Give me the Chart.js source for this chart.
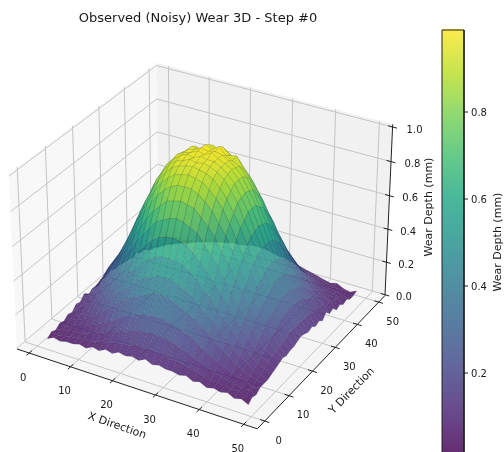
<!DOCTYPE html>
<html>
<head>
<meta charset="utf-8">
<script src="https://cdn.jsdelivr.net/npm/chart.js@4.4.0/dist/chart.umd.min.js"></script>
<style>
  body { margin: 0; padding: 0; background: white; }
  canvas { display: block; }
</style>
</head>
<body>
<canvas id="chartCanvas" width="504" height="452"></canvas>
<script>
// Data
const titleText = 'Observed (Noisy) Wear 3D - Step #0';
const xGrid = [1.5, 3.07, 4.63, 6.2, 7.77, 9.33, 10.9, 12.47, 14.03, 15.6, 17.17, 18.73, 20.3, 21.87, 23.43, 25, 26.57, 28.13, 29.7, 31.27, 32.83, 34.4, 35.97, 37.53, 39.1, 40.67, 42.23, 43.8, 45.37, 46.93, 48.5];
const yGrid = [1.5, 3.07, 4.63, 6.2, 7.77, 9.33, 10.9, 12.47, 14.03, 15.6, 17.17, 18.73, 20.3, 21.87, 23.43, 25, 26.57, 28.13, 29.7, 31.27, 32.83, 34.4, 35.97, 37.53, 39.1, 40.67, 42.23, 43.8, 45.37, 46.93, 48.5];
// wear depth in hundredths of a mm, one row per yGrid value
const wearHundredths = [
  [3,5,4,5,5,6,5,7,6,8,7,9,8,9,8,10,8,9,8,8,7,8,6,7,5,6,5,6,4,5,3],
  [5,4,5,6,6,7,7,8,9,10,11,12,12,13,13,14,13,13,12,12,11,10,9,8,7,7,6,6,6,4,5],
  [4,6,6,7,7,8,9,11,13,14,16,17,19,20,20,21,20,20,19,17,16,14,13,11,9,8,7,7,5,6,4],
  [6,5,7,8,9,11,13,15,17,20,23,24,26,27,28,28,28,27,26,24,23,20,17,15,13,11,9,8,7,5,6],
  [5,8,8,10,12,15,18,21,25,28,31,33,35,37,39,39,39,37,35,33,31,28,25,21,18,15,12,10,8,7,6],
  [7,7,9,12,15,18,22,26,30,33,37,41,43,45,47,47,47,45,43,41,37,33,30,26,22,18,15,12,9,8,6],
  [6,10,11,14,18,22,26,31,35,41,44,49,52,55,56,56,56,55,52,49,44,41,35,31,26,22,18,14,11,9,7],
  [9,9,13,16,21,26,31,36,42,47,52,57,61,64,65,66,65,64,61,57,52,47,42,36,31,26,21,16,13,10,8],
  [8,13,15,19,25,30,35,42,48,55,60,65,70,72,74,75,74,72,70,65,60,55,48,42,35,30,25,19,15,12,9],
  [11,12,17,22,28,33,41,47,55,61,68,73,77,81,82,83,82,81,77,73,68,61,55,47,41,33,28,22,17,13,10],
  [8,14,19,25,31,37,44,52,60,68,74,80,84,87,89,89,89,87,84,80,74,68,60,52,44,37,31,25,19,13,9],
  [10,13,21,27,33,41,49,57,65,73,80,85,89,92,93,94,93,92,89,85,80,73,65,57,49,41,33,27,21,14,10],
  [9,15,23,28,35,43,52,61,70,77,84,89,93,95,96,97,96,95,93,89,84,77,70,61,52,43,35,28,23,15,10],
  [11,15,24,30,37,45,55,64,72,81,87,92,95,96,98,97,98,97,95,92,87,81,72,64,55,45,37,30,24,16,11],
  [10,16,25,31,39,47,56,65,75,82,89,93,96,98,97,99,98,98,96,93,89,82,75,65,56,47,39,31,25,15,12],
  [12,15,25,31,39,47,56,66,75,83,89,94,96,97,99,98,100,98,96,94,89,83,75,66,56,47,39,31,25,16,11],
  [11,16,25,31,39,47,56,65,75,82,89,93,96,97,99,98,99,98,96,93,89,82,75,65,56,47,39,31,25,15,10],
  [10,15,24,30,37,45,55,64,72,81,87,92,96,95,99,97,100,96,94,92,87,81,72,64,55,45,37,30,24,15,11],
  [10,14,23,28,35,43,52,61,70,77,84,89,94,93,97,95,98,94,95,89,84,77,70,61,52,43,35,28,23,15,9],
  [9,13,21,27,33,41,49,57,65,73,80,85,90,91,95,93,94,91,90,85,80,73,65,57,49,41,33,27,21,13,10],
  [9,12,19,25,31,37,44,52,60,68,74,80,85,86,90,88,90,86,83,80,74,68,60,52,44,37,31,25,19,14,8],
  [9,14,17,22,28,33,41,47,55,61,68,73,77,81,82,83,82,81,77,73,68,61,55,47,41,33,28,22,17,12,11],
  [10,11,15,19,25,30,35,42,48,55,60,65,70,72,74,75,74,72,70,65,60,55,48,42,35,30,25,19,15,13,8],
  [7,11,13,16,21,26,31,36,42,47,52,57,61,64,65,66,65,64,61,57,52,47,42,36,31,26,21,16,13,9,9],
  [8,8,11,14,18,22,26,31,35,41,44,49,52,55,56,56,56,55,52,49,44,41,35,31,26,22,18,14,11,10,6],
  [5,9,9,12,15,18,22,26,30,33,37,41,43,45,47,47,47,45,43,41,37,33,30,26,22,18,15,12,9,7,7],
  [7,6,8,10,12,15,18,21,25,28,31,33,35,37,39,39,39,37,35,33,31,28,25,21,18,15,12,10,8,8,5],
  [4,7,7,8,10,12,14,16,19,22,25,27,28,30,31,31,31,30,28,27,25,22,19,16,14,12,10,8,7,6,6],
  [6,4,7,7,8,9,11,13,15,17,19,21,23,24,25,25,25,24,23,21,19,17,15,13,11,9,8,7,6,5,4],
  [3,6,5,6,7,8,9,10,12,13,15,16,17,18,18,19,18,18,17,16,15,13,12,10,9,8,7,6,5,6,4],
  [5,3,6,5,6,6,7,8,9,10,11,12,12,13,14,14,14,13,12,12,11,10,9,8,7,6,5,6,4,3,5]
];
const xTicks = [0, 10, 20, 30, 40, 50];
const yTicks = [0, 10, 20, 30, 40, 50];
const zTicks = [0, 0.2, 0.4, 0.6, 0.8, 1.0];
const colorbarTicks = [0.2, 0.4, 0.6, 0.8];

const VMIN = 0.018, VMAX = 0.99;
const LOW = -3, HIGH = 53, ZLOW = -0.005, ZHIGH = 1.015;
const SURFACE_ALPHA = 0.82;
const VIRIDIS = ['#440154', '#482475', '#414487', '#355f8d', '#2a788e', '#21918c', '#22a884', '#44bf70', '#7ad151', '#bddf26', '#fde725'];

function viridis(v) {
  const t = Math.min(1, Math.max(0, (v - VMIN) / (VMAX - VMIN))) * (VIRIDIS.length - 1);
  const i = Math.min(VIRIDIS.length - 2, Math.floor(t));
  const hex = h => [1, 3, 5].map(k => parseInt(h.substr(k, 2), 16));
  const a = hex(VIRIDIS[i]), b = hex(VIRIDIS[i + 1]);
  return a.map((c, k) => c + (b[k] - c) * (t - i));
}

// camera offsets for one point: elev 30, azim -60, same as a mplot3d default view
function view(x, y, z) {
  const cx = ((x - LOW) / (HIGH - LOW) - 0.5) * 1.1905;
  const cy = ((y - LOW) / (HIGH - LOW) - 0.5) * 1.1905;
  const cz = -0.4465 + (z - ZLOW) / (ZHIGH - ZLOW) * 0.852;
  return {
    xv: 0.866 * cx + 0.5 * cy,
    yv: -0.25 * cx + 0.433 * cy + 0.866 * cz,
    depth: 10 - (0.433 * cx - 0.75 * cy + 0.5 * cz)
  };
}
function project(x, y, z) {
  const p = view(x, y, z);
  return { x: 17 + (p.xv / p.depth + 0.081) * 2313, y: 349 - (p.yv / p.depth + 0.0494) * 2353 };
}

const layers = [];
function addLine(points, color, width) {
  layers.push({ data: points, borderColor: color, borderWidth: width, fill: false, pointRadius: 0, tension: 0 });
}
function addPoly(points, fillColor, edgeColor, edgeWidth) {
  layers.push({ data: points.concat([points[0]]), backgroundColor: fillColor, borderColor: edgeColor, borderWidth: edgeWidth, fill: 'shape', pointRadius: 0, tension: 0 });
}

// panes
addPoly([project(LOW, LOW, ZLOW), project(LOW, HIGH, ZLOW), project(LOW, HIGH, ZHIGH), project(LOW, LOW, ZHIGH)], 'rgba(242,242,242,0.5)', 'rgba(0,0,0,0)', 0);
addPoly([project(LOW, HIGH, ZLOW), project(HIGH, HIGH, ZLOW), project(HIGH, HIGH, ZHIGH), project(LOW, HIGH, ZHIGH)], 'rgba(230,230,230,0.55)', 'rgba(0,0,0,0)', 0);
addPoly([project(LOW, LOW, ZLOW), project(HIGH, LOW, ZLOW), project(HIGH, HIGH, ZLOW), project(LOW, HIGH, ZLOW)], 'rgba(236,236,236,0.5)', 'rgba(0,0,0,0)', 0);

// grid lines on the panes
const GRID = '#c4c4c4';
xTicks.forEach(t => addLine([project(t, LOW, ZLOW), project(t, HIGH, ZLOW), project(t, HIGH, ZHIGH)], GRID, 1));
yTicks.forEach(t => addLine([project(HIGH, t, ZLOW), project(LOW, t, ZLOW), project(LOW, t, ZHIGH)], GRID, 1));
zTicks.forEach(t => addLine([project(LOW, LOW, t), project(LOW, HIGH, t), project(HIGH, HIGH, t)], GRID, 1));

// axis lines and tick marks
const AXIS = '#222222';
addLine([project(LOW, LOW, ZLOW), project(HIGH, LOW, ZLOW)], AXIS, 1);
addLine([project(HIGH, LOW, ZLOW), project(HIGH, HIGH, ZLOW)], AXIS, 1);
addLine([project(HIGH, HIGH, ZLOW), project(HIGH, HIGH, ZHIGH)], AXIS, 1);
xTicks.forEach(t => addLine([project(t, LOW + 1, ZLOW), project(t, LOW - 1, ZLOW)], AXIS, 1));
yTicks.forEach(t => addLine([project(HIGH - 1, t, ZLOW), project(HIGH + 1, t, ZLOW)], AXIS, 1));
zTicks.forEach(t => addLine([project(HIGH - 1, HIGH, t), project(HIGH + 1, HIGH, t)], AXIS, 1));

// surface cells, far ones first like mplot3d does
const wearAt = (i, j) => wearHundredths[j][i] / 100;
const cells = [];
for (let j = 0; j < yGrid.length - 1; j++) {
  for (let i = 0; i < xGrid.length - 1; i++) {
    const corners = [[i, j], [i + 1, j], [i + 1, j + 1], [i, j + 1]];
    const z = corners.reduce((s, c) => s + wearAt(c[0], c[1]), 0) / 4;
    const depth = corners.reduce((s, c) => s + view(xGrid[c[0]], yGrid[c[1]], wearAt(c[0], c[1])).depth, 0) / 4;
    cells.push({ corners, z, depth });
  }
}
cells.sort((a, b) => b.depth - a.depth);
cells.forEach(cell => {
  const rgb = viridis(cell.z).map(Math.round);
  addPoly(
    cell.corners.map(c => project(xGrid[c[0]], yGrid[c[1]], wearAt(c[0], c[1]))),
    `rgba(${rgb[0]},${rgb[1]},${rgb[2]},${SURFACE_ALPHA})`,
    'rgba(25,35,60,0.28)',
    0.4
  );
});

// colorbar: value <-> pixel
const cbarY = v => 373 - (v - 0.2) * 435;
const CBAR_LEFT = 442, CBAR_RIGHT = 464;
for (let y = 452; y > 30; y -= 2) {
  const v = 0.2 + (373 - y) / 435;
  const rgb = viridis(v).map(c => Math.round(c * SURFACE_ALPHA + 255 * (1 - SURFACE_ALPHA)));
  const color = `rgb(${rgb[0]},${rgb[1]},${rgb[2]})`;
  addPoly([{ x: CBAR_LEFT, y }, { x: CBAR_RIGHT, y }, { x: CBAR_RIGHT, y: y - 3 }, { x: CBAR_LEFT, y: y - 3 }], color, 'rgba(0,0,0,0)', 0);
}
addLine([{ x: CBAR_LEFT, y: 452 }, { x: CBAR_LEFT, y: 30 }, { x: CBAR_RIGHT, y: 30 }, { x: CBAR_RIGHT, y: 452 }], AXIS, 1);
colorbarTicks.forEach(t => addLine([{ x: CBAR_RIGHT, y: cbarY(t) }, { x: CBAR_RIGHT + 4, y: cbarY(t) }], AXIS, 1));

// tick labels, axis titles and chart title
const textPlugin = {
  id: 'textPlugin',
  afterDraw(chart) {
    const ctx = chart.ctx;
    const put = (text, x, y, size, angle) => {
      ctx.save();
      ctx.translate(x, y);
      ctx.rotate((angle || 0) * Math.PI / 180);
      ctx.font = `${size}px "DejaVu Sans"`;
      ctx.fillStyle = '#1a1a1a';
      ctx.textAlign = 'center';
      ctx.textBaseline = 'middle';
      ctx.fillText(text, 0, 0);
      ctx.restore();
    };
    put(titleText, 198, 19, 13);
    xTicks.forEach(t => {
      const p = project(t, LOW, ZLOW);
      put(String(t), p.x - 6, p.y + 25, 10);
    });
    yTicks.forEach(t => {
      const p = project(HIGH, t, ZLOW);
      put(String(t), p.x + 14, p.y + 20, 10);
    });
    zTicks.forEach(t => {
      const p = project(HIGH, HIGH, t);
      put(t.toFixed(1), p.x + 19 + 3 * t, p.y + 3, 10);
    });
    colorbarTicks.forEach(t => put(t.toFixed(1), 479, cbarY(t) + 1, 10));
    put('X Direction', 117, 426, 11, 19);
    put('Y Direction', 352, 391, 11, -46);
    put('Wear Depth (mm)', 429, 207, 11, -90);
    put('Wear Depth (mm)', 498, 242, 11, -90);
  }
};

new Chart(document.getElementById('chartCanvas').getContext('2d'), {
  type: 'line',
  data: { datasets: layers.slice().reverse() }, // first dataset is painted last
  options: {
    responsive: false,
    animation: false,
    events: [],
    layout: { padding: 0 },
    scales: {
      x: { type: 'linear', min: 0, max: 504, display: false },
      y: { type: 'linear', min: 0, max: 452, reverse: true, display: false }
    },
    plugins: { legend: { display: false }, tooltip: { enabled: false } }
  },
  plugins: [textPlugin]
});
</script>
</body>
</html>
